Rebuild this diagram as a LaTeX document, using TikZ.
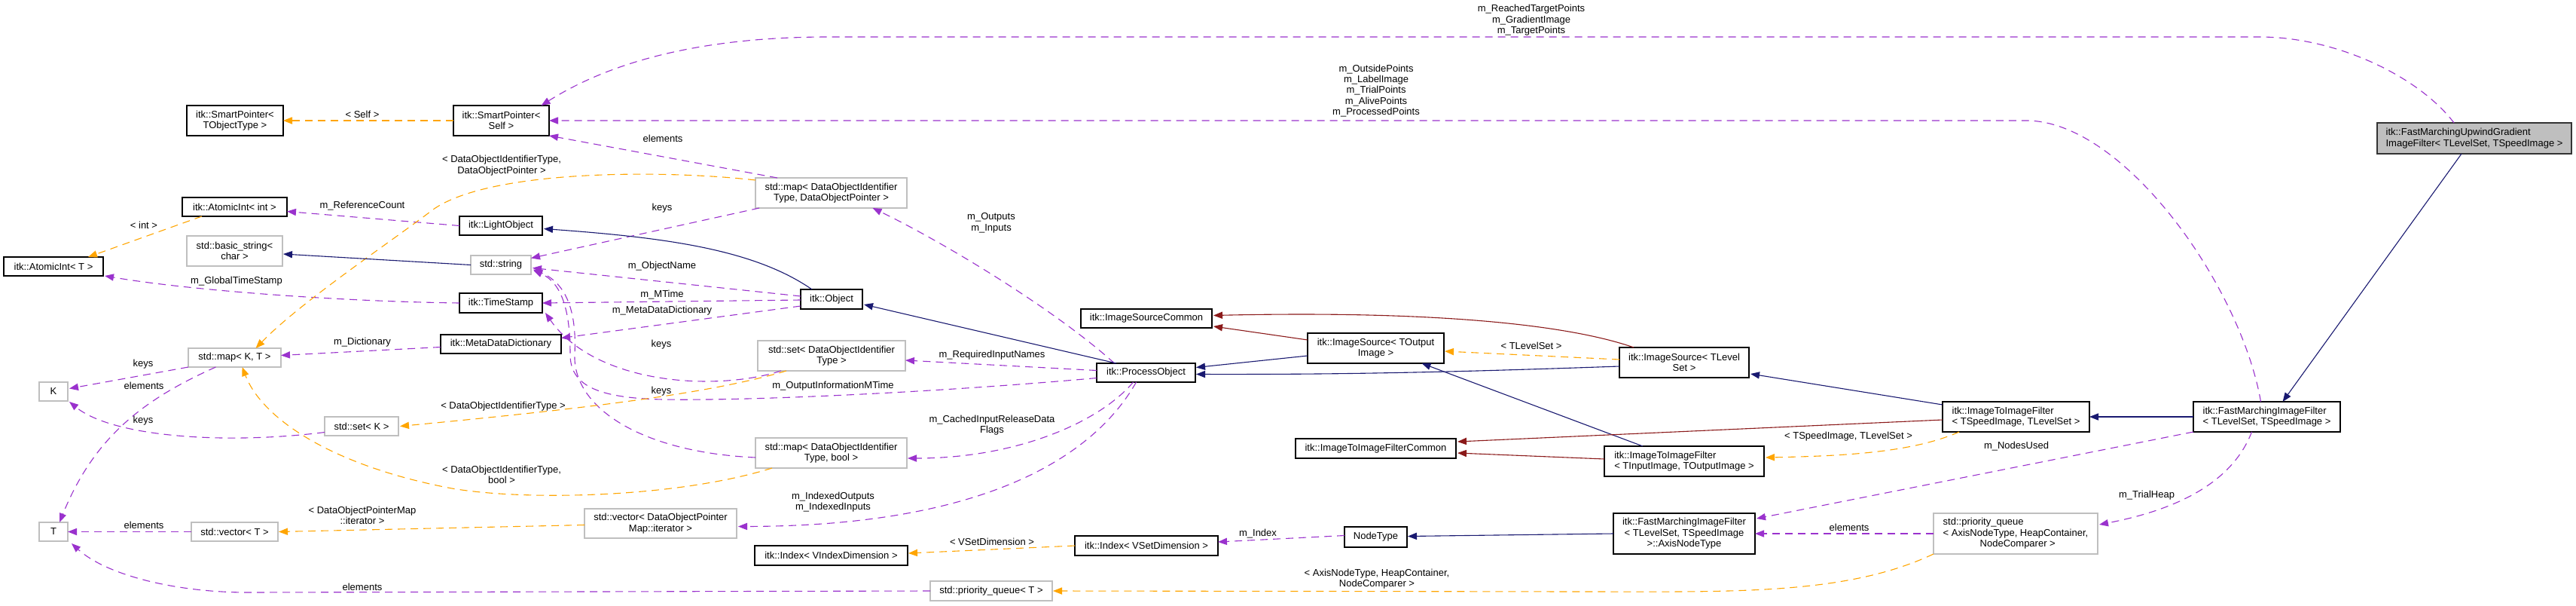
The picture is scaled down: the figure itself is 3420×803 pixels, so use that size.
\documentclass[tikz,border=0pt]{standalone}
\usepackage{fontspec}
\setmainfont{Liberation Sans}
\usetikzlibrary{arrows.meta,calc}
\definecolor{purp}{HTML}{9A32CD}
\definecolor{orng}{HTML}{FFA500}
\definecolor{mblue}{HTML}{191970}
\definecolor{fbred}{HTML}{8B1A1A}
\definecolor{gborder}{HTML}{BFBFBF}
\definecolor{gfill}{HTML}{BFBFBF}
\newcommand\lblfont{\fontsize{6.5}{7.2}\selectfont}
\newcommand\bx[7]{%
 \pgfmathsetmacro\bxw{(#4-#2)*0.5}%
 \pgfmathsetmacro\bxh{(#5-#3)*0.5}%
 \pgfmathsetmacro\bxx{(#2+#4)/2}%
 \pgfmathsetmacro\bxy{(#3+#5)/2}%
 \node[#6, minimum width=\bxw pt, minimum height=\bxh pt] (#1) at (\bxx,\bxy) {#7};}
\tikzset{
 box/.style={draw=black, line width=0.6pt, fill=white, inner sep=0pt, outer sep=0pt, font=\lblfont, align=center},
 gbox/.style={box, draw=gborder},
 lbox/.style={box, align=left},
 tbox/.style={box, align=left, fill=gfill, draw=black!80},
 usage/.style={draw=purp, line width=0.55pt, dash pattern=on 5pt off 3.5pt, -{Triangle[length=6pt,width=4.6pt]}},
 tmpl/.style={usage, draw=orng},
 inh/.style={draw=mblue, line width=0.55pt, -{Triangle[length=6pt,width=4.6pt]}},
 prv/.style={inh, draw=fbred},
 elabel/.style={font=\lblfont, align=center, inner sep=0pt},
}
\begin{document}
\begin{tikzpicture}[x=0.5pt,y=-0.5pt]
\useasboundingbox (0,0) rectangle (3420,803);
% nodes
\bx{target}{3156}{163}{3414}{204}{tbox}{itk::FastMarchingUpwindGradient\\ImageFilter< TLevelSet, TSpeedImage >}
\bx{smpT}{248}{140}{376}{180}{box}{itk::SmartPointer<\\TObjectType >}
\bx{smpS}{602}{140}{729}{180}{box}{itk::SmartPointer<\\Self >}
\bx{aiInt}{242}{262}{381}{287}{box}{itk::AtomicInt< int >}
\bx{light}{610}{287}{720}{312}{box}{itk::LightObject}
\bx{bstr}{248}{313}{375}{353}{gbox}{std::basic\_string<\\char >}
\bx{aiT}{5}{341}{137}{366}{box}{itk::AtomicInt< T >}
\bx{str}{625}{339}{705}{364}{gbox}{std::string}
\bx{ts}{610}{389}{720}{415}{box}{itk::TimeStamp}
\bx{mdd}{585}{444}{745}{469}{box}{itk::MetaDataDictionary}
\bx{mapKT}{250}{462}{373}{487}{gbox}{std::map< K, T >}
\bx{K}{52}{507}{90}{532}{gbox}{K}
\bx{setK}{431}{553}{529}{578}{gbox}{std::set< K >}
\bx{T}{52}{693}{90}{718}{gbox}{T}
\bx{vecT}{254}{693}{369}{718}{gbox}{std::vector< T >}
\bx{mapDOP}{1003}{236}{1204}{276}{gbox}{std::map< DataObjectIdentifier\\Type, DataObjectPointer >}
\bx{obj}{1063}{384}{1145}{410}{box}{itk::Object}
\bx{setDOI}{1006}{452}{1202}{492}{gbox}{std::set< DataObjectIdentifier\\Type >}
\bx{mapDOB}{1003}{581}{1204}{621}{gbox}{std::map< DataObjectIdentifier\\Type, bool >}
\bx{vecDOP}{776}{675}{978}{714}{gbox}{std::vector< DataObjectPointer\\Map::iterator >}
\bx{idxVI}{1002}{724}{1205}{750}{box}{itk::Index< VIndexDimension >}
\bx{pqT}{1235}{771}{1397}{797}{gbox}{std::priority\_queue< T >}
\bx{isc}{1435}{410}{1609}{435}{box}{itk::ImageSourceCommon}
\bx{po}{1456}{482}{1587}{507}{box}{itk::ProcessObject}
\bx{isOut}{1736}{442}{1917}{482}{box}{itk::ImageSource< TOutput\\Image >}
\bx{isLvl}{2150}{461}{2322}{501}{box}{itk::ImageSource< TLevel\\Set >}
\bx{i2ic}{1720}{582}{1933}{608}{box}{itk::ImageToImageFilterCommon}
\bx{i2iIO}{2130}{592}{2342}{632}{lbox}{itk::ImageToImageFilter\\< TInputImage, TOutputImage >}
\bx{idxVS}{1427}{711}{1617}{737}{box}{itk::Index< VSetDimension >}
\bx{node}{1785}{699}{1868}{726}{box}{NodeType}
\bx{axis}{2142}{681}{2330}{735}{box}{itk::FastMarchingImageFilter\\< TLevelSet, TSpeedImage\\ >::AxisNodeType}
\bx{i2iSL}{2579}{533}{2774}{573}{lbox}{itk::ImageToImageFilter\\< TSpeedImage, TLevelSet >}
\bx{fmif}{2912}{533}{3107}{573}{lbox}{itk::FastMarchingImageFilter\\< TLevelSet, TSpeedImage >}
\bx{pqA}{2567}{681}{2785}{735}{gbox, align=left}{std::priority\_queue\\< AxisNodeType, HeapContainer,\\\hspace*{24.5pt}NodeComparer >}
% usage edges
\draw[usage] ($(target.north)+(-27,0)$) .. controls (3210,100) and (3100,49) .. (3000,49) -- (1100,49) .. controls (900,49) and (790,95) .. ($(smpS.north)+(53,0)$);
\draw[usage] ($(fmif.north)+(-8,0)$) .. controls (2975,380) and (2820,160) .. (2690,160) -- (smpS.east);
\draw[usage] ($(mapDOP.north west)+(29,0)$) -- (smpS.south east);
\draw[usage] (light.west) -- ($(aiInt.east)+(0,6)$);
\draw[usage] (ts.west) .. controls (450,400) and (250,385) .. ($(aiT.south east)+(2,0)$);
\draw[usage] ($(mapDOP.south west)+(5,0)$) -- ($(str.east)+(0,-9)$);
\draw[usage] ($(obj.west)+(0,-4)$) -- ($(str.east)+(2,4)$);
\draw[usage] ($(obj.west)+(0,1)$) -- (ts.east);
\draw[usage] ($(obj.west)+(0,9)$) -- ($(mdd.east)+(0,-8)$);
\draw[usage] ($(mdd.west)+(0,4)$) -- ($(mapKT.east)+(0,-3)$);
\draw[usage] (mapKT.south west) -- ($(K.east)+(2,-4)$);
\draw[usage] ($(mapKT.south)+(-25,0)$) .. controls (190,530) and (125,580) .. ($(T.north)+(8,0)$);
\draw[usage] ($(setK.west)+(0,8)$) .. controls (300,590) and (150,580) .. ($(K.south east)+(2,1)$);
\draw[usage] (vecT.west) -- (T.east);
\draw[usage] (pqT.west) -- (330,786) .. controls (230,786) and (140,762) .. ($(T.south east)+(5,3)$);
\draw[usage] ($(setDOI.south west)+(31,0)$) .. controls (950,520) and (790,510) .. ($(ts.south east)+(4,0)$);
\draw[usage] ($(mapDOB.west)+(0,6)$) .. controls (850,600) and (760,540) .. (763,470) .. controls (766,410) and (750,375) .. ($(str.east)+(3,6)$);
\draw[usage] ($(po.west)+(0,7)$) .. controls (1250,520) and (1000,532) .. (880,530) .. controls (790,528) and (757,510) .. (757,470) .. controls (757,410) and (745,375) .. ($(str.east)+(3,7)$);
\draw[usage] ($(po.north)+(-42,0)$) .. controls (1400,410) and (1250,320) .. ($(mapDOP.south)+(55,0)$);
\draw[usage] ($(po.west)+(0,-3)$) -- ($(setDOI.east)+(0,6)$);
\draw[usage] ($(po.south)+(-17,0)$) .. controls (1460,560) and (1350,608) .. ($(mapDOB.east)+(1,7)$);
\draw[usage] ($(po.south)+(-13,0)$) .. controls (1450,610) and (1300,698) .. ($(vecDOP.east)+(2,4)$);
\draw[usage] ($(node.west)+(0,-2)$) -- ($(idxVS.east)+(0,-5)$);
\draw[usage] (fmif.south west) -- ($(axis.east)+(2,-20)$);
\draw[usage] ($(fmif.south)+(-20,0)$) .. controls (2960,650) and (2870,680) .. ($(pqA.east)+(2,-12)$);
\draw[usage] (pqA.west) -- (axis.east);
% template edges
\draw[tmpl] (smpS.west) -- (smpT.east);
\draw[tmpl] ($(aiInt.south west)+(26,0)$) -- ($(aiT.north)+(46,0)$);
\draw[tmpl] ($(mapDOP.west)+(0,-17)$) .. controls (880,225) and (650,225) .. (575,278) .. controls (520,320) and (400,400) .. ($(mapKT.north)+(28,0)$);
\draw[tmpl] ($(setDOI.south west)+(38,0)$) .. controls (950,520) and (800,540) .. ($(setK.east)+(2,0)$);
\draw[tmpl] ($(mapDOB.south west)+(22,0)$) .. controls (900,660) and (700,665) .. (600,648) .. controls (450,620) and (350,560) .. ($(mapKT.south)+(10,0)$);
\draw[tmpl] ($(vecDOP.west)+(0,2)$) -- ($(vecT.east)+(1,0)$);
\draw[tmpl] (idxVS.west) -- ($(idxVI.east)+(1,-3)$);
\draw[tmpl] (pqA.south west) .. controls (2450,790) and (2300,785) .. (2100,785) -- ($(pqT.east)+(1,0)$);
\draw[tmpl] ($(isLvl.west)+(0,-4)$) -- ($(isOut.east)+(1,4)$);
\draw[tmpl] ($(i2iSL.south west)+(22,0)$) .. controls (2540,600) and (2450,605) .. ($(i2iIO.east)+(2,-5)$);
% inheritance edges
\draw[inh] ($(target.south)+(-17,0)$) -- ($(fmif.north)+(21,0)$);
\draw[inh] (fmif.west) -- (i2iSL.east);
\draw[inh] ($(i2iSL.north west)+(0,4)$) -- ($(isLvl.east)+(2,15)$);
\draw[inh] ($(isLvl.west)+(0,5)$) .. controls (1950,493) and (1800,497) .. ($(po.east)+(1,2)$);
\draw[inh] ($(isOut.west)+(0,10)$) -- ($(po.east)+(1,-7)$);
\draw[inh] ($(i2iIO.north)+(-55,0)$) -- ($(isOut.south)+(61,0)$);
\draw[inh] ($(po.north west)+(26,0)$) -- ($(obj.east)+(2,7)$);
\draw[inh] ($(obj.north)+(-26,0)$) .. controls (1000,330) and (880,315) .. ($(light.east)+(2,4)$);
\draw[inh] (str.west) -- ($(bstr.east)+(1,4)$);
\draw[inh] (axis.west) -- ($(node.east)+(1,-1)$);
\draw[prv] ($(isLvl.north west)+(19,0)$) .. controls (2080,430) and (1900,412) .. ($(isc.east)+(2,-4)$);
\draw[prv] ($(isOut.north west)+(0,9)$) -- ($(isc.south east)+(2,-2)$);
\draw[prv] ($(i2iSL.west)+(0,4)$) -- ($(i2ic.east)+(2,-9)$);
\draw[prv] ($(i2iIO.west)+(0,-3)$) -- ($(i2ic.east)+(2,6)$);
% labels
\node[elabel] (L1) at (2033,27) {m\_ReachedTargetPoints\\m\_GradientImage\\m\_TargetPoints};
\node[elabel] (L2) at (1827,120.5) {m\_OutsidePoints\\m\_LabelImage\\m\_TrialPoints\\m\_AlivePoints\\m\_ProcessedPoints};
\node[elabel] (L3) at (481,152) {< Self >};
\node[elabel] (L4) at (880,184) {elements};
\node[elabel] (L5) at (666,219.5) {< DataObjectIdentifierType,\\DataObjectPointer >};
\node[elabel] (L6) at (481,273) {m\_ReferenceCount};
\node[elabel] (L7) at (879,276) {keys};
\node[elabel] (L8) at (1316,296) {m\_Outputs\\m\_Inputs};
\node[elabel] (L9) at (191,299) {< int >};
\node[elabel] (L10) at (879,353) {m\_ObjectName};
\node[elabel] (L11) at (314,373) {m\_GlobalTimeStamp};
\node[elabel] (L12) at (879,391) {m\_MTime};
\node[elabel] (L13) at (879,412) {m\_MetaDataDictionary};
\node[elabel] (L14) at (481,454) {m\_Dictionary};
\node[elabel] (L15) at (878,457) {keys};
\node[elabel] (L16) at (1317,471) {m\_RequiredInputNames};
\node[elabel] (L17) at (190,483) {keys};
\node[elabel] (L18) at (1106,512) {m\_OutputInformationMTime};
\node[elabel] (L19) at (191,512) {elements};
\node[elabel] (L20) at (878,519) {keys};
\node[elabel] (L21) at (668,539) {< DataObjectIdentifierType >};
\node[elabel] (L22) at (190,558) {keys};
\node[elabel] (L23) at (1317,564) {m\_CachedInputReleaseData\\Flags};
\node[elabel] (L24) at (666,630) {< DataObjectIdentifierType,\\bool >};
\node[elabel] (L25) at (481,684) {< DataObjectPointerMap\\::iterator >};
\node[elabel] (L26) at (1106,666) {m\_IndexedOutputs\\m\_IndexedInputs};
\node[elabel] (L27) at (191,697) {elements};
\node[elabel] (L28) at (1317,719) {< VSetDimension >};
\node[elabel] (L29) at (1670,708) {m\_Index};
\node[elabel] (L30) at (481,779) {elements};
\node[elabel] (L31) at (1828,768) {< AxisNodeType, HeapContainer,\\NodeComparer >};
\node[elabel] (L32) at (2033,459) {< TLevelSet >};
\node[elabel] (L33) at (2454,579) {< TSpeedImage, TLevelSet >};
\node[elabel] (L34) at (2677,592) {m\_NodesUsed};
\node[elabel] (L35) at (2850,657) {m\_TrialHeap};
\node[elabel] (L36) at (2455,700) {elements};
\end{tikzpicture}
\end{document}
